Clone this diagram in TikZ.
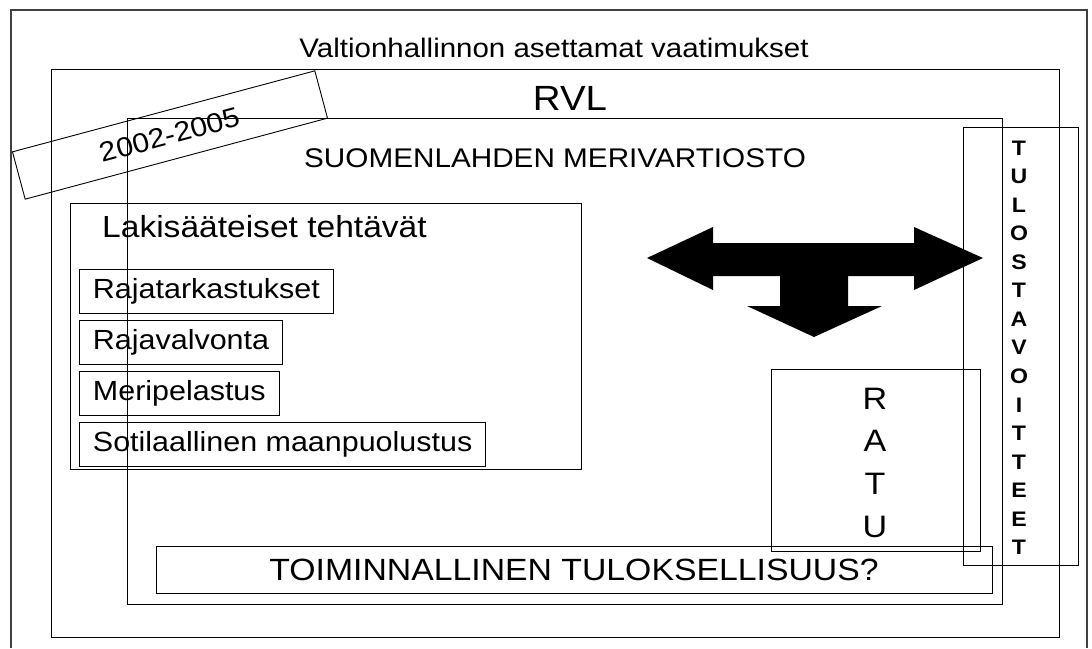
\documentclass[tikz,border=0pt]{standalone}
\usepackage{fontspec}
\setmainfont{Liberation Sans}[FakeStretch=1.1]
\usetikzlibrary{positioning}
\newcommand{\fsz}[1]{\fontsize{#1}{#1}\selectfont}

\begin{document}
\begin{tikzpicture}[
  x=1pt, y=-1pt,
  frame/.style={draw, line width=1pt},
  task/.style={draw, line width=0.9pt, anchor=north west, minimum height=44pt, inner xsep=13.5pt, font=\fsz{27.7}},
  title/.style={anchor=base, inner sep=0pt},
  letter/.style={anchor=base, inner sep=0pt}
]
\useasboundingbox (0,0) rectangle (1092,648);

% nested frames
\draw[line width=1.3pt, black!75] (11,648) |- (1087,10) -- (1087,648);
\draw[frame] (51,69) rectangle (1059,637);
\draw[frame] (127,118) rectangle (1002,604);
\draw[frame] (70,203) rectangle (581,469);
\draw[frame] (771,369) rectangle (980,551);
\draw[frame] (963,127) rectangle (1078,565);

\node[title, font=\fsz{26.8}] (vaatimukset) at (554,57) {Valtionhallinnon asettamat vaatimukset};
\node[title, font=\fsz{35}] (rvl) at (570,110) {RVL};
\node[title, font=\fsz{27}] (merivartiosto) at (555,167) {SUOMENLAHDEN MERIVARTIOSTO};
\node[anchor=base west, inner sep=0pt, font=\fsz{30.5}] (lakisaateiset) at (102,237) {Lakisääteiset tehtävät};

% tasks
\node[task] (rajatarkastukset) at (79,269) {Rajatarkastukset};
\node[task, below=6pt of rajatarkastukset.south west, anchor=north west] (rajavalvonta) {Rajavalvonta};
\node[task, below=6pt of rajavalvonta.south west, anchor=north west] (meripelastus) {Meripelastus};
\node[task, below=6pt of meripelastus.south west, anchor=north west] (maanpuolustus) {Sotilaallinen maanpuolustus};

\node[draw, line width=0.9pt, minimum width=836pt, minimum height=47pt, font=\fsz{30.7}] (tuloksellisuus) at (574,569.5) {TOIMINNALLINEN TULOKSELLISUUS?};

\node[draw, line width=0.9pt, rotate=15, minimum width=313pt, minimum height=49pt, font=\fsz{27.4}] (kausi) at (170,135) {2002-2005};

% block arrow
\fill (647,258) -- (713,227) -- (713,243) -- (914,243) -- (914,227) -- (983,258) -- (914,290) -- (914,276)
  -- (848,276) -- (848,306) -- (882,306) -- (814,337) -- (747,306) -- (780,306) -- (780,276)
  -- (713,276) -- (713,290) -- cycle;

\foreach \ch [count=\i from 0] in {R,A,T,U}
  \node[letter, font=\fsz{31}] (ratu-\i) at (875,409+42.7*\i) {\ch};
\foreach \ch [count=\i from 0] in {T,U,L,O,S,T,A,V,O,I,T,T,E,E,T}
  \node[letter, font=\bfseries\fsz{21}] (tulos-\i) at (1019,155+28.57*\i) {\ch};
\end{tikzpicture}
\end{document}
